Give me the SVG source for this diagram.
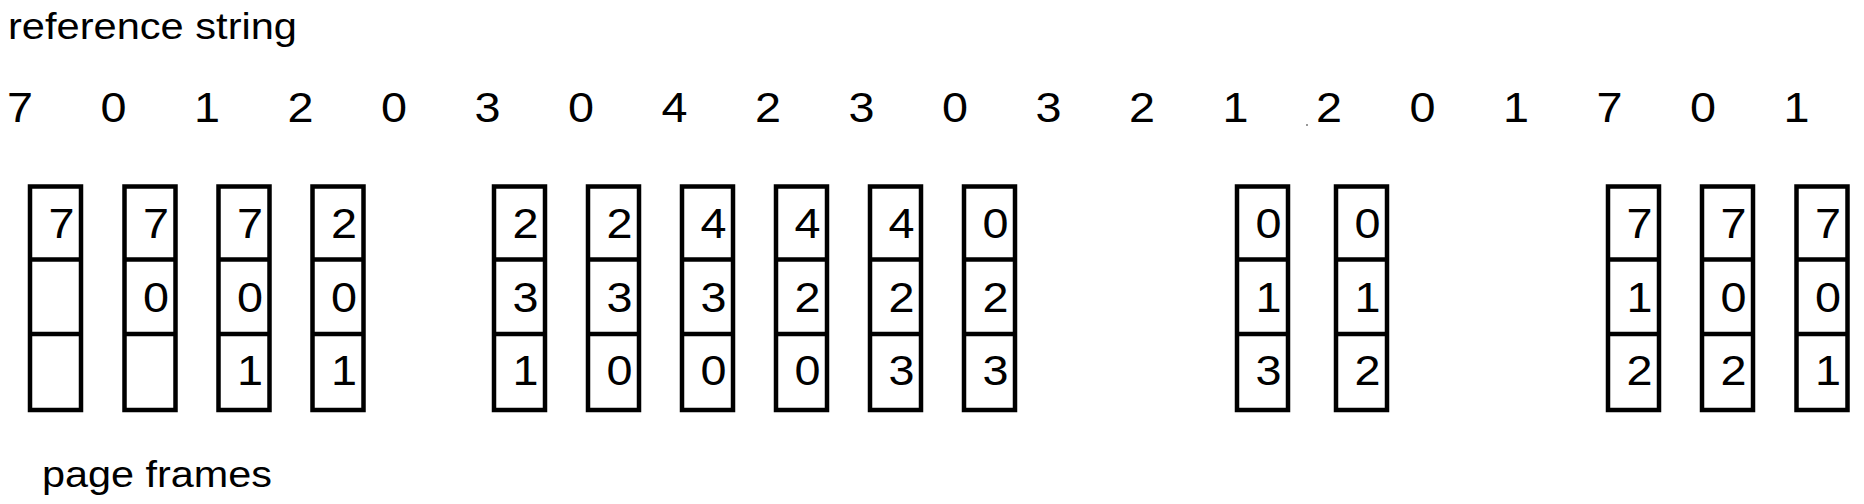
<svg xmlns="http://www.w3.org/2000/svg" width="1864" height="504" viewBox="0 0 1864 504">
<style>
.bg{fill:#fff}
.frame{fill:none;stroke:#000;stroke-width:4.5;stroke-linejoin:miter}
.div{stroke:#000;stroke-width:4.5}
.lbl{font-family:"Liberation Sans",Arial,sans-serif;font-size:37px;fill:#000}
.d{font-family:"Liberation Sans",Arial,sans-serif;font-size:42px;fill:#000;text-anchor:middle}
</style>
<defs>
<g id="box">
<rect class="frame" x="0" y="186.5" width="51" height="223.5"/>
<line class="div" x1="0" y1="259.5" x2="51" y2="259.5"/>
<line class="div" x1="0" y1="334" x2="51" y2="334"/>
</g>
</defs>
<rect class="bg" x="0" y="0" width="1864" height="504"/>
<g id="labels">
<text class="lbl" x="8" y="39" textLength="289" lengthAdjust="spacingAndGlyphs">reference string</text>
<text class="lbl" x="42" y="487" textLength="230" lengthAdjust="spacingAndGlyphs">page frames</text>
</g>
<g id="reference-string">
<text class="d" x="20" y="122" textLength="26" lengthAdjust="spacingAndGlyphs">7</text>
<text class="d" x="113.5" y="122" textLength="26" lengthAdjust="spacingAndGlyphs">0</text>
<text class="d" x="207" y="122" textLength="26" lengthAdjust="spacingAndGlyphs">1</text>
<text class="d" x="300.5" y="122" textLength="26" lengthAdjust="spacingAndGlyphs">2</text>
<text class="d" x="394" y="122" textLength="26" lengthAdjust="spacingAndGlyphs">0</text>
<text class="d" x="487.5" y="122" textLength="26" lengthAdjust="spacingAndGlyphs">3</text>
<text class="d" x="581" y="122" textLength="26" lengthAdjust="spacingAndGlyphs">0</text>
<text class="d" x="674.5" y="122" textLength="26" lengthAdjust="spacingAndGlyphs">4</text>
<text class="d" x="768" y="122" textLength="26" lengthAdjust="spacingAndGlyphs">2</text>
<text class="d" x="861.5" y="122" textLength="26" lengthAdjust="spacingAndGlyphs">3</text>
<text class="d" x="955" y="122" textLength="26" lengthAdjust="spacingAndGlyphs">0</text>
<text class="d" x="1048.5" y="122" textLength="26" lengthAdjust="spacingAndGlyphs">3</text>
<text class="d" x="1142" y="122" textLength="26" lengthAdjust="spacingAndGlyphs">2</text>
<text class="d" x="1235.5" y="122" textLength="26" lengthAdjust="spacingAndGlyphs">1</text>
<text class="d" x="1329" y="122" textLength="26" lengthAdjust="spacingAndGlyphs">2</text>
<text class="d" x="1422.5" y="122" textLength="26" lengthAdjust="spacingAndGlyphs">0</text>
<text class="d" x="1516" y="122" textLength="26" lengthAdjust="spacingAndGlyphs">1</text>
<text class="d" x="1609.5" y="122" textLength="26" lengthAdjust="spacingAndGlyphs">7</text>
<text class="d" x="1703" y="122" textLength="26" lengthAdjust="spacingAndGlyphs">0</text>
<text class="d" x="1796.5" y="122" textLength="26" lengthAdjust="spacingAndGlyphs">1</text>
<circle cx="1307" cy="125" r="1" fill="#777"/>
</g>
<g id="frames">
<g id="f1" transform="translate(30,0)"><use href="#box"/><text class="d" x="31.5" y="238" textLength="26" lengthAdjust="spacingAndGlyphs">7</text></g>
<g id="f2" transform="translate(124.5,0)"><use href="#box"/><text class="d" x="31.5" y="238" textLength="26" lengthAdjust="spacingAndGlyphs">7</text><text class="d" x="31.5" y="312" textLength="26" lengthAdjust="spacingAndGlyphs">0</text></g>
<g id="f3" transform="translate(218.5,0)"><use href="#box"/><text class="d" x="31.5" y="238" textLength="26" lengthAdjust="spacingAndGlyphs">7</text><text class="d" x="31.5" y="312" textLength="26" lengthAdjust="spacingAndGlyphs">0</text><text class="d" x="31.5" y="385" textLength="26" lengthAdjust="spacingAndGlyphs">1</text></g>
<g id="f4" transform="translate(312.5,0)"><use href="#box"/><text class="d" x="31.5" y="238" textLength="26" lengthAdjust="spacingAndGlyphs">2</text><text class="d" x="31.5" y="312" textLength="26" lengthAdjust="spacingAndGlyphs">0</text><text class="d" x="31.5" y="385" textLength="26" lengthAdjust="spacingAndGlyphs">1</text></g>
<g id="f5" transform="translate(494,0)"><use href="#box"/><text class="d" x="31.5" y="238" textLength="26" lengthAdjust="spacingAndGlyphs">2</text><text class="d" x="31.5" y="312" textLength="26" lengthAdjust="spacingAndGlyphs">3</text><text class="d" x="31.5" y="385" textLength="26" lengthAdjust="spacingAndGlyphs">1</text></g>
<g id="f6" transform="translate(588,0)"><use href="#box"/><text class="d" x="31.5" y="238" textLength="26" lengthAdjust="spacingAndGlyphs">2</text><text class="d" x="31.5" y="312" textLength="26" lengthAdjust="spacingAndGlyphs">3</text><text class="d" x="31.5" y="385" textLength="26" lengthAdjust="spacingAndGlyphs">0</text></g>
<g id="f7" transform="translate(682,0)"><use href="#box"/><text class="d" x="31.5" y="238" textLength="26" lengthAdjust="spacingAndGlyphs">4</text><text class="d" x="31.5" y="312" textLength="26" lengthAdjust="spacingAndGlyphs">3</text><text class="d" x="31.5" y="385" textLength="26" lengthAdjust="spacingAndGlyphs">0</text></g>
<g id="f8" transform="translate(776,0)"><use href="#box"/><text class="d" x="31.5" y="238" textLength="26" lengthAdjust="spacingAndGlyphs">4</text><text class="d" x="31.5" y="312" textLength="26" lengthAdjust="spacingAndGlyphs">2</text><text class="d" x="31.5" y="385" textLength="26" lengthAdjust="spacingAndGlyphs">0</text></g>
<g id="f9" transform="translate(870,0)"><use href="#box"/><text class="d" x="31.5" y="238" textLength="26" lengthAdjust="spacingAndGlyphs">4</text><text class="d" x="31.5" y="312" textLength="26" lengthAdjust="spacingAndGlyphs">2</text><text class="d" x="31.5" y="385" textLength="26" lengthAdjust="spacingAndGlyphs">3</text></g>
<g id="f10" transform="translate(964,0)"><use href="#box"/><text class="d" x="31.5" y="238" textLength="26" lengthAdjust="spacingAndGlyphs">0</text><text class="d" x="31.5" y="312" textLength="26" lengthAdjust="spacingAndGlyphs">2</text><text class="d" x="31.5" y="385" textLength="26" lengthAdjust="spacingAndGlyphs">3</text></g>
<g id="f11" transform="translate(1237,0)"><use href="#box"/><text class="d" x="31.5" y="238" textLength="26" lengthAdjust="spacingAndGlyphs">0</text><text class="d" x="31.5" y="312" textLength="26" lengthAdjust="spacingAndGlyphs">1</text><text class="d" x="31.5" y="385" textLength="26" lengthAdjust="spacingAndGlyphs">3</text></g>
<g id="f12" transform="translate(1336,0)"><use href="#box"/><text class="d" x="31.5" y="238" textLength="26" lengthAdjust="spacingAndGlyphs">0</text><text class="d" x="31.5" y="312" textLength="26" lengthAdjust="spacingAndGlyphs">1</text><text class="d" x="31.5" y="385" textLength="26" lengthAdjust="spacingAndGlyphs">2</text></g>
<g id="f13" transform="translate(1608,0)"><use href="#box"/><text class="d" x="31.5" y="238" textLength="26" lengthAdjust="spacingAndGlyphs">7</text><text class="d" x="31.5" y="312" textLength="26" lengthAdjust="spacingAndGlyphs">1</text><text class="d" x="31.5" y="385" textLength="26" lengthAdjust="spacingAndGlyphs">2</text></g>
<g id="f14" transform="translate(1702,0)"><use href="#box"/><text class="d" x="31.5" y="238" textLength="26" lengthAdjust="spacingAndGlyphs">7</text><text class="d" x="31.5" y="312" textLength="26" lengthAdjust="spacingAndGlyphs">0</text><text class="d" x="31.5" y="385" textLength="26" lengthAdjust="spacingAndGlyphs">2</text></g>
<g id="f15" transform="translate(1796.5,0)"><use href="#box"/><text class="d" x="31.5" y="238" textLength="26" lengthAdjust="spacingAndGlyphs">7</text><text class="d" x="31.5" y="312" textLength="26" lengthAdjust="spacingAndGlyphs">0</text><text class="d" x="31.5" y="385" textLength="26" lengthAdjust="spacingAndGlyphs">1</text></g>
</g>
</svg>
